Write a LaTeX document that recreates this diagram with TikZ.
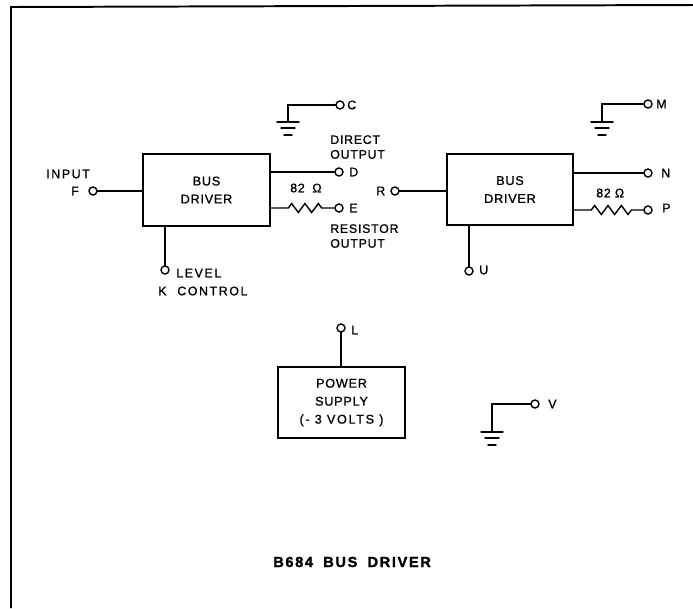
\documentclass[tikz,border=0pt]{standalone}
\usepackage{fontspec}
\setmainfont[LetterSpace=6,FakeBold=1]{Liberation Sans}
\newfontfamily\titlefont[LetterSpace=11,WordSpace=1.8,FakeBold=1.5]{Liberation Sans Bold}
\usetikzlibrary{decorations.pathmorphing}
\newcommand{\wider}[1]{{\addfontfeature{LetterSpace=13}#1}}
\begin{document}
\begin{tikzpicture}[x=0.025cm,y=-0.025cm,line cap=round,
  wire/.style = {draw=black,line width=1pt},
  block/.style = {rectangle,draw=black,line width=1.1pt,inner sep=0mm,outer sep=0mm,align=center,font=\fontsize{9}{12.8}\selectfont},
  terminal/.style = {circle,draw=black,line width=1pt,inner sep=0mm,minimum size=2.0mm,outer sep=0mm},
  label/.style = {inner sep=0mm,align=left,font=\fontsize{8.8}{10.5}\selectfont},
  resistor/.style = {wire,decorate,decoration={zigzag,segment length=9.5pt,amplitude=3.2pt,pre length=13pt,post length=5pt}}]
\useasboundingbox (0,0) rectangle (693,608);
% page edge
\coordinate (edgeBL) at (11,608);
\coordinate (edgeTL) at (11,7);
\coordinate (edgeTR) at (693,5);
\draw[line width=1.4pt,line cap=butt] (edgeBL) -- (edgeTL) -- (edgeTR);
% blocks
\node[block,minimum width=3.175cm,minimum height=1.8cm] (drvA) at (206.5,190) {BUS\\DRIVER};
\node[block,minimum width=3.15cm,minimum height=1.775cm] (drvB) at (510,189.5) {BUS\\DRIVER};
\node[block,minimum width=3.175cm,minimum height=1.775cm] (psu) at (341.5,402.5) {\raisebox{-1.2pt}{POWER}\\\raisebox{-1.2pt}{SUPPLY}\\\raisebox{-1.2pt}{\wider{(- 3 VOLTS )}}};
% terminals
\foreach \n/\x/\y in {F/93/191, D/339/172, E/339/208, C/340/105, K/165/270,
                      R/395/191, N/648/173, P/648/210, M/648/104, U/469/271,
                      L/341/328, V/535/404}
    \node[terminal] (t\n) at (\x,\y) {};
% ground symbols
\foreach \n/\x/\y in {C/288/122, M/602/122, V/492/432} {
    \coordinate (g\n) at (\x,\y);
    \draw[wire] (\x-11,\y) -- (\x+11,\y);
    \draw[wire] (\x-7,\y+6) -- (\x+7,\y+6);
    \draw[wire] (\x-4,\y+13) -- (\x+4,\y+13);
}
% wires
\draw[wire] (tF) -- (tF -| drvA.west);
\draw[wire] (tD) -- (tD -| drvA.east);
\draw[resistor] (tE -| drvA.east) -- (tE);
\draw[wire] (tK) -- (tK |- drvA.south);
\draw[wire] (tC) -| (gC);
\draw[wire] (tR) -- (tR -| drvB.west);
\draw[wire] (tN) -- (tN -| drvB.east);
\draw[resistor] (tP -| drvB.east) -- (tP);
\draw[wire] (tU) -- (tU |- drvB.south);
\draw[wire] (tM) -| (gM);
\draw[wire] (tL) -- (tL |- psu.north);
\draw[wire] (tV) -| (gV);
% labels
\node[label,anchor=west] (lbC) at (347,105) {C};
\node[label,anchor=west] (lbDirect) at (330,147) {DIRECT\\OUTPUT};
\node[label,anchor=west] (lbD) at (349,172) {D};
\node[label,anchor=west] (lbE) at (349,208) {E};
\node[label,anchor=west] (lbOhmA) at (290,188) {82 \;Ω};
\node[label,anchor=west] (lbRes) at (330,236) {RESISTOR\\OUTPUT};
\node[label,anchor=west] (lbInput) at (46,174) {\wider{INPUT}};
\node[label,anchor=west] (lbF) at (71,191) {F};
\node[label,anchor=west] (lbLevel) at (176,273) {\wider{LEVEL}};
\node[label,anchor=west] (lbK) at (158,291) {K};
\node[label,anchor=west] (lbControl) at (177,291) {\wider{CONTROL}};
\node[label,anchor=west] (lbR) at (376,191) {R};
\node[label,anchor=west] (lbM) at (656,104) {M};
\node[label,anchor=west] (lbN) at (661,173) {N};
\node[label,anchor=west] (lbP) at (662,208) {P};
\node[label,anchor=west] (lbOhmB) at (596,193) {82\,\,Ω};
\node[label,anchor=west] (lbU) at (479,270) {U};
\node[label,anchor=west] (lbL) at (351,330) {L};
\node[label,anchor=west] (lbV) at (548,404) {V};
\node[label,anchor=west,font=\titlefont\fontsize{10.4}{11}\selectfont] (lbTitle) at (273,562) {B684 BUS DRIVER};
\end{tikzpicture}
\end{document}
